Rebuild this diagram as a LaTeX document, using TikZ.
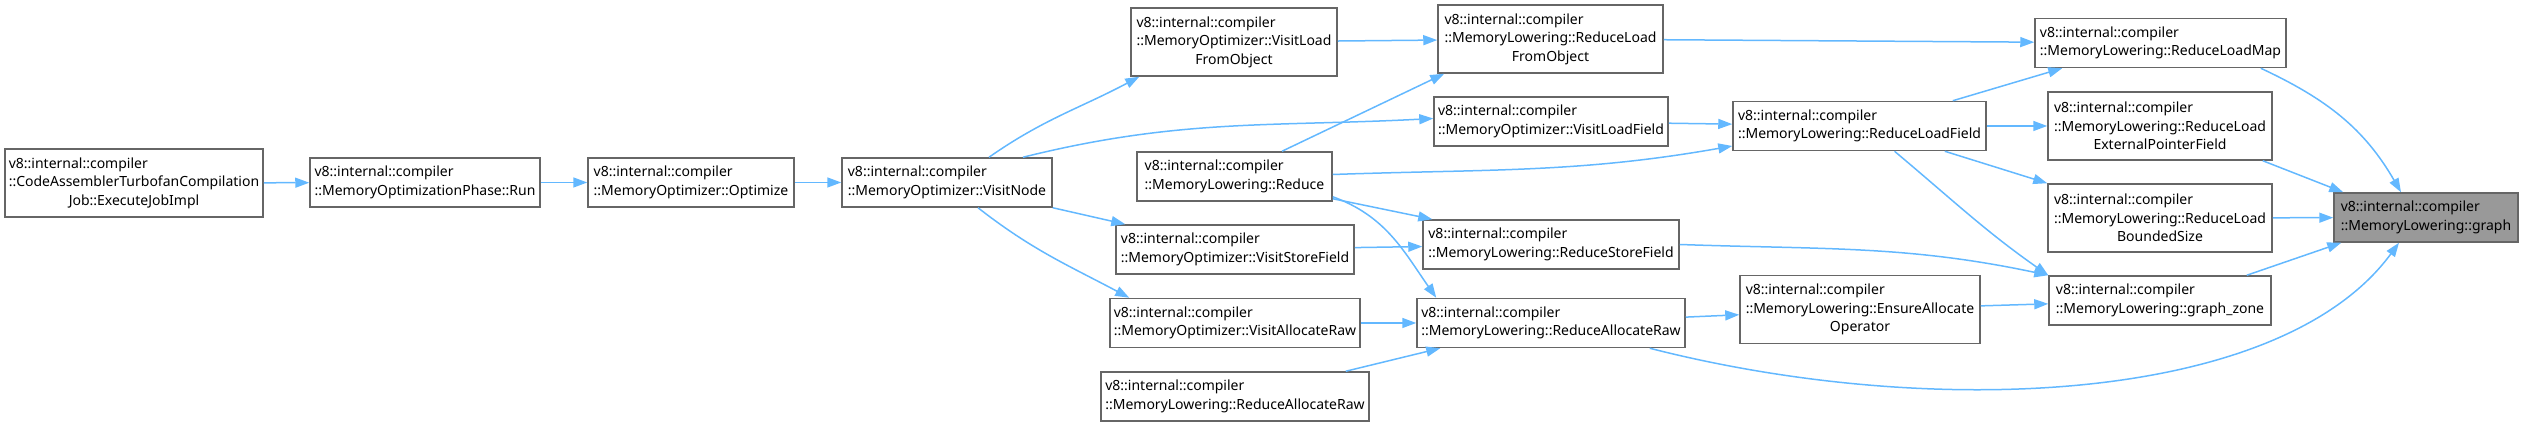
\documentclass[tikz,border=0pt]{standalone}
\usepackage{fontspec}
\setmainfont{Noto Sans}
\usetikzlibrary{arrows.meta, positioning, calc}
\definecolor{edgeblue}{HTML}{63B8FF}
\definecolor{boxgrey}{HTML}{666666}
\definecolor{hilite}{HTML}{999999}

\begin{document}
\begin{tikzpicture}[
  x=0.5pt, y=-0.5pt,
  fn/.style={rectangle, draw=boxgrey, line width=0.75pt, fill=white, align=left, inner sep=0pt, font=\fontsize{7}{9.2}\selectfont},
  two/.style={minimum height=24.5pt},
  three/.style={minimum height=34pt},
  arrow/.style={-{Triangle[length=7pt, width=5pt]}, line width=0.75pt, edgeblue}
]
  \useasboundingbox (0,0) rectangle (2524,426);

  % callers, left to right
  \node[fn, three, minimum width=129pt] (ca) at (134,183) {v8::internal::compiler\\::CodeAssemblerTurbofanCompilation\\\hfil Job::ExecuteJobImpl};
  \node[fn, two, minimum width=115pt] (run) at (425,182.5) {v8::internal::compiler\\::MemoryOptimizationPhase::Run};
  \node[fn, two, minimum width=103pt] (optimize) at (691,182.5) {v8::internal::compiler\\::MemoryOptimizer::Optimize};
  \node[fn, two, minimum width=105pt] (visitnode) at (947,182.5) {v8::internal::compiler\\::MemoryOptimizer::VisitNode};

  % optimizer column
  \node[fn, three, minimum width=103pt] (visitlfo) at (1234,42) {v8::internal::compiler\\::MemoryOptimizer::VisitLoad\\\hfil FromObject};
  \node[fn, two, minimum width=97.5pt] (reduce) at (1234.5,176.5) {v8::internal::compiler\\::MemoryLowering::Reduce};
  \node[fn, two, minimum width=119pt] (visitsf) at (1235,249.5) {v8::internal::compiler\\::MemoryOptimizer::VisitStoreField};
  \node[fn, two, minimum width=125pt] (visitar) at (1235,323) {v8::internal::compiler\\::MemoryOptimizer::VisitAllocateRaw};
  \node[fn, two, minimum width=134pt] (lowerar) at (1235,396.5) {v8::internal::compiler\\::MemoryLowering::ReduceAllocateRaw};

  % lowering column
  \node[fn, three, minimum width=112.5pt] (reducelfo) at (1550.5,39) {v8::internal::compiler\\::MemoryLowering::ReduceLoad\\\hfil FromObject};
  \node[fn, two, minimum width=117pt] (visitlf) at (1551,121.5) {v8::internal::compiler\\::MemoryOptimizer::VisitLoadField};
  \node[fn, two, minimum width=128pt] (reducesf) at (1551,244.5) {v8::internal::compiler\\::MemoryLowering::ReduceStoreField};
  \node[fn, two, minimum width=134pt] (reducear) at (1551,323) {v8::internal::compiler\\::MemoryLowering::ReduceAllocateRaw};

  \node[fn, two, minimum width=126.5pt] (reducelf) at (1859.5,126) {v8::internal::compiler\\::MemoryLowering::ReduceLoadField};
  \node[fn, three, minimum width=120pt] (ensure) at (1860,309.5) {v8::internal::compiler\\::MemoryLowering::EnsureAllocate\\\hfil Operator};

  \node[fn, two, minimum width=125.5pt] (reducelm) at (2160.5,43) {v8::internal::compiler\\::MemoryLowering::ReduceLoadMap};
  \node[fn, three, minimum width=112pt] (reducelepf) at (2160,126) {v8::internal::compiler\\::MemoryLowering::ReduceLoad\\\hfil ExternalPointerField};
  \node[fn, three, minimum width=112pt] (reducelbs) at (2160,218) {v8::internal::compiler\\::MemoryLowering::ReduceLoad\\\hfil BoundedSize};
  \node[fn, two, minimum width=111pt] (graphzone) at (2160,300.5) {v8::internal::compiler\\::MemoryLowering::graph\_zone};

  % the function itself
  \node[fn, two, minimum width=92pt, fill=hilite] (graph) at (2426,217.5) {v8::internal::compiler\\::MemoryLowering::graph};

  % call edges
  \draw[arrow] (ca) -- (run);
  \draw[arrow] (run) -- (optimize);
  \draw[arrow] (optimize) -- (visitnode);
  \draw[arrow] ([xshift=21pt]visitnode.north) to[out=35, in=-152] ([xshift=4.5pt]visitlfo.south west);
  \draw[arrow] ([xshift=38pt]visitnode.north) to[out=14, in=183] ([yshift=1.5pt]visitlf.west);
  \draw[arrow] (visitnode.south east) -- ([xshift=5pt]visitsf.north west);
  \draw[arrow] ([xshift=15.5pt]visitnode.south) to[out=-38, in=152] ([xshift=10pt]visitar.north west);

  \draw[arrow] (visitlfo) -- (reducelfo);
  \draw[arrow] ([xshift=23.75pt]reduce.north) -- ([xshift=3.5pt]reducelfo.south west);
  \draw[arrow] (visitlf) -- (reducelf);
  \draw[arrow] ([yshift=1pt]reduce.east) to[out=2, in=190] ([yshift=-10pt]reducelf.west);
  \draw[arrow] ([yshift=1.5pt]reduce.south east) -- ([xshift=5pt]reducesf.north west);
  \draw[arrow] ([yshift=2.5pt]reduce.south east) to[out=-20, in=125] ([xshift=10pt]reducear.north west);
  \draw[arrow] (visitsf) -- (reducesf);
  \draw[arrow] (visitar) -- (reducear);
  \draw[arrow] ([xshift=-12pt]lowerar.north east) -- ([xshift=12pt]reducear.south west);

  \draw[arrow] (reducelfo) -- (reducelm);
  \draw[arrow] ([xshift=-17pt]reducelf.north east) -- ([xshift=14pt]reducelm.south west);
  \draw[arrow] (reducelf) -- (reducelepf);
  \draw[arrow] ([xshift=-21pt]reducelf.south east) -- (reducelbs.north west);
  \draw[arrow] ([xshift=17.5pt]reducelf.south) to[out=-40, in=145] (graphzone.north west);
  \draw[arrow] (reducesf.east) to[out=-2, in=168] (graphzone.north west);
  \draw[arrow] (reducear) -- (ensure);
  \draw[arrow] (ensure) -- (graphzone);

  \draw[arrow] ([xshift=-18pt]reducear.south east) .. controls (1930,420) and (2280,405) .. ([xshift=-13.5pt]graph.south);
  \draw[arrow] ([xshift=-13pt]reducelm.south east) to[out=-25, in=120] ([xshift=-12.5pt]graph.north);
  \draw[arrow] ([xshift=-5pt]reducelepf.south east) -- ([xshift=5pt]graph.north west);
  \draw[arrow] (reducelbs) -- (graph);
  \draw[arrow] ([xshift=-12.5pt]graphzone.north east) -- ([xshift=4pt]graph.south west);
\end{tikzpicture}
\end{document}
